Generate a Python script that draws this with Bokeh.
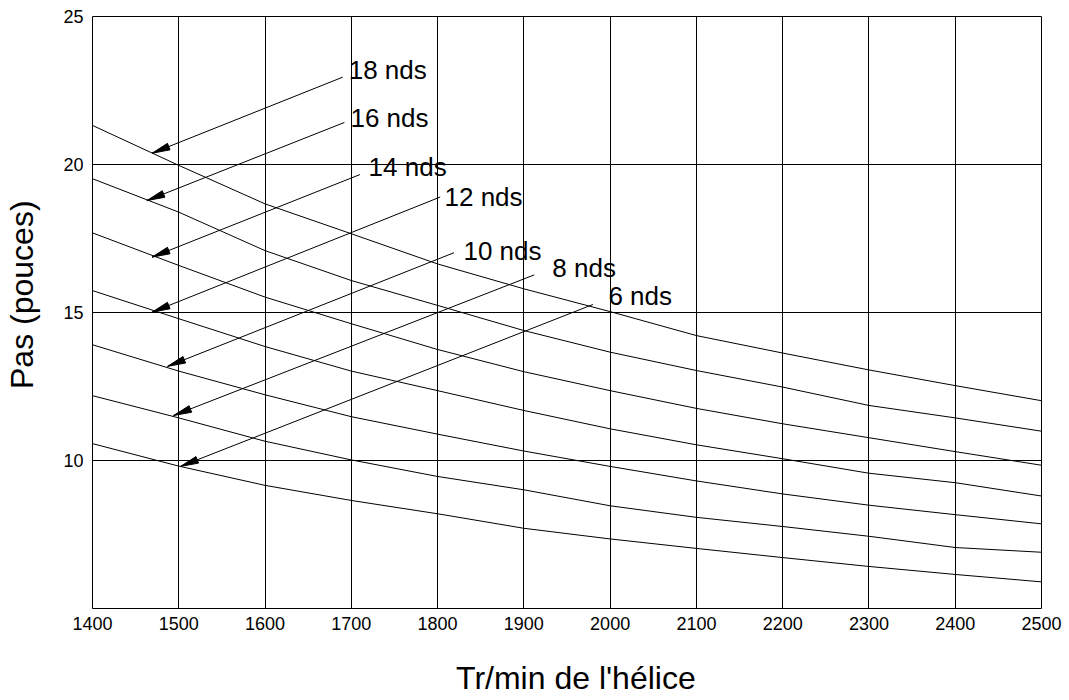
import math
from bokeh.plotting import figure
from bokeh.models import FixedTicker, Range1d
from bokeh.core.properties import value
from bokeh.embed import file_html
from bokeh.resources import INLINE

# ---- data ----
rpm = [1400, 1500, 1600, 1700, 1800, 1900, 2000, 2100, 2200, 2300, 2400, 2500]
pitch_6 = [10.57, 9.81, 9.16, 8.65, 8.20, 7.71, 7.35, 7.03, 6.72, 6.42, 6.15, 5.90]
pitch_8 = [12.19, 11.44, 10.65, 10.02, 9.46, 9.01, 8.47, 8.08, 7.77, 7.44, 7.06, 6.90]
pitch_10 = [13.91, 13.02, 12.22, 11.48, 10.89, 10.32, 9.80, 9.31, 8.87, 8.49, 8.17, 7.86]
pitch_12 = [15.74, 14.79, 13.85, 13.02, 12.36, 11.69, 11.07, 10.53, 10.06, 9.57, 9.25, 8.80]
pitch_14 = [17.69, 16.59, 15.52, 14.62, 13.75, 13.00, 12.36, 11.76, 11.24, 10.77, 10.30, 9.84]
pitch_16 = [19.52, 18.39, 17.09, 16.08, 15.24, 14.39, 13.66, 13.04, 12.48, 11.86, 11.44, 10.99]
pitch_18 = [21.32, 19.97, 18.67, 17.66, 16.64, 15.80, 15.03, 14.22, 13.63, 13.06, 12.53, 12.02]

x_ticks = [1400, 1500, 1600, 1700, 1800, 1900, 2000, 2100, 2200, 2300, 2400, 2500]
y_ticks = [10, 15, 20, 25]

label_texts = ["18 nds", "16 nds", "14 nds", "12 nds", "10 nds", "8 nds", "6 nds"]
# annotation layout (data coordinates, text vertical centre)
label_x = [1697, 1699, 1720, 1808, 1830, 1933, 1998]
label_y = [23.19, 21.56, 19.90, 18.91, 17.08, 16.49, 15.56]
arrow_start_x = [1690, 1692, 1710, 1803, 1819, 1912, 1980]
arrow_start_y = [22.95, 21.42, 19.66, 18.90, 17.02, 16.27, 15.27]
arrow_tip_x = [1469, 1463, 1469, 1469, 1487, 1494, 1502]
arrow_tip_y = [20.38, 18.78, 16.87, 15.01, 13.18, 11.52, 9.80]

FONT = "Liberation Sans"
W, H = 1069, 700
BL, BR, BT, BB = 92, 28, 16, 92
x0, x1, y0, y1 = 1400, 2500, 5, 25
NB = "\u00a0"

p = figure(width=W, height=H, output_backend="svg", toolbar_location=None,
           x_range=Range1d(x0, x1), y_range=Range1d(y0, y1),
           min_border_left=BL, min_border_right=BR,
           min_border_top=BT, min_border_bottom=BB)
p.background_fill_color = "white"
p.border_fill_color = "white"
p.outline_line_color = "black"
p.outline_line_alpha = 1.0
p.outline_line_width = 1

p.xaxis.ticker = FixedTicker(ticks=x_ticks)
p.yaxis.ticker = FixedTicker(ticks=y_ticks)
for ax in (p.xaxis, p.yaxis):
    ax.axis_line_color = None
    ax.major_tick_in = 0
    ax.major_tick_out = 0
    ax.minor_tick_in = 0
    ax.minor_tick_out = 0
    ax.major_label_text_font = FONT
    ax.major_label_text_font_size = "18px"
    ax.major_label_text_color = "black"
    ax.axis_label_text_font = FONT
    ax.axis_label_text_font_size = "32px"
    ax.axis_label_text_font_style = "normal"
    ax.axis_label_text_color = "black"
p.xaxis.major_label_standoff = 8
p.yaxis.major_label_standoff = 9
# leading no-break spaces shift the centred titles along their axis
p.xaxis.axis_label = NB * 2 + "Tr/min de l'hélice"
p.yaxis.axis_label = NB * 4 + "Pas (pouces)"
p.xaxis.axis_label_standoff = 27
p.yaxis.axis_label_standoff = 20

for g in (p.xgrid, p.ygrid):
    g.grid_line_color = "black"
    g.grid_line_alpha = 1.0
    g.grid_line_width = 1

for ys in (pitch_6, pitch_8, pitch_10, pitch_12, pitch_14, pitch_16, pitch_18):
    p.line(rpm, ys, line_color="black", line_width=1)

# arrows with narrow filled heads
kx = (W - BL - BR) / (x1 - x0)
ky = (H - BT - BB) / (y1 - y0)
head_len, head_half = 18.0, 3.5
xs_heads, ys_heads = [], []
for sx, sy, tx, ty in zip(arrow_start_x, arrow_start_y, arrow_tip_x, arrow_tip_y):
    p.line([sx, tx], [sy, ty], line_color="black", line_width=1)
    dx, dy = (sx - tx) * kx, (sy - ty) * ky
    d = math.hypot(dx, dy)
    ux, uy = dx / d, dy / d
    nx, ny = -uy, ux
    bx, by = head_len * ux, head_len * uy
    xs_heads.append([tx, tx + (bx + head_half * nx) / kx, tx + (bx - head_half * nx) / kx])
    ys_heads.append([ty, ty + (by + head_half * ny) / ky, ty + (by - head_half * ny) / ky])
p.patches(xs_heads, ys_heads, fill_color="black", line_color="black", line_width=1)

p.text(x=label_x, y=label_y, text=label_texts, text_font=value(FONT),
       text_font_size="26px", text_color="black",
       text_align="left", text_baseline="middle")

open("out.html", "w").write(file_html(p, INLINE))
